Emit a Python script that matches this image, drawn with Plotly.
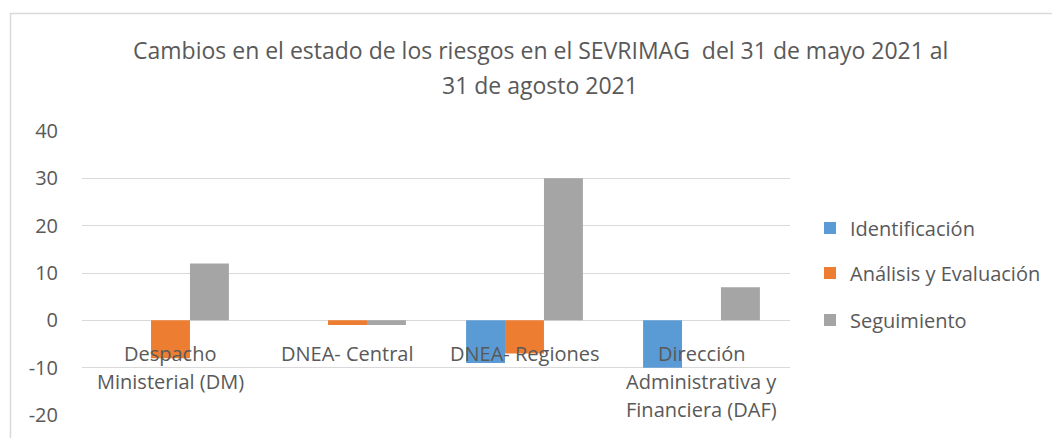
import plotly.graph_objects as go

categories = ["Despacho<br>Ministerial (DM)", "DNEA- Central", "DNEA- Regiones",
              "Dirección<br>Administrativa y<br>Financiera (DAF)"]
identificacion = [0, 0, -9, -10]
analisis = [-8, -1, -7, 0]
seguimiento = [12, -1, 30, 7]
series_names = ["Identificación", "Análisis y Evaluación", "Seguimiento"]
colors = ["#5B9BD5", "#ED7D31", "#A5A5A5"]
y_ticks = [-20, -10, 0, 10, 20, 30, 40]
title_lines = ["Cambios en el estado de los riesgos en el SEVRIMAG  del 31 de mayo 2021 al",
               "31 de agosto 2021"]

FONT = "Open Sans"
TXT = "#595959"
OFF = 8  # default page body margin
W, H = 1060 - OFF, 438 - OFF

# plot area in page pixels
PL, PR, PT, PB = 82, 790, 131, 415
L, R, T, B = PL - OFF, PR - OFF, PT - OFF, PB - OFF
pw, ph = R - L, B - T


def px_x(p):
    return (p - OFF - L) / pw


def px_y(q):
    return (B - (q - OFF)) / ph


fig = go.Figure()
legend_ids = ["legend", "legend2", "legend3"]
for name, vals, c, lg in zip(series_names, [identificacion, analisis, seguimiento], colors, legend_ids):
    fig.add_trace(go.Bar(x=list(range(len(categories))), y=vals, name=name, legend=lg,
                         showlegend=True, marker=dict(color=c, line=dict(width=0))))

annotations = []
for i, cat in enumerate(categories):
    for j, line in enumerate(cat.split("<br>")):
        annotations.append(dict(x=i, y=0, xref="x", yref="y", text=line, showarrow=False,
                                yanchor="middle", yshift=-33 - 28 * j,
                                font=dict(family=FONT, size=20, color=TXT)))
for j, line in enumerate(title_lines):
    annotations.append(dict(x=px_x(540), y=px_y(50 + 35 * j), xref="paper", yref="paper",
                            text=line, showarrow=False, xanchor="center", yanchor="middle",
                            font=dict(family=FONT, size=23, color=TXT)))

legend_y = [228, 273, 320]
legend_layout = {}
for lg, yy in zip(legend_ids, legend_y):
    legend_layout[lg] = dict(x=px_x(810), y=px_y(yy), xanchor="left", yanchor="middle",
                             font=dict(family=FONT, size=20, color=TXT),
                             bgcolor="rgba(0,0,0,0)", borderwidth=0)

fig.update_layout(
    width=W, height=H,
    margin=dict(l=L, r=W - R, t=T, b=H - B, autoexpand=False),
    paper_bgcolor="white", plot_bgcolor="white",
    showlegend=True,
    barmode="group", bargap=0.34, bargroupgap=0,
    font=dict(family=FONT, size=20, color=TXT),
    xaxis=dict(showticklabels=False, showgrid=False, zeroline=False, showline=False,
               range=[-0.5, len(categories) - 0.5]),
    yaxis=dict(range=[-20, 40], tickvals=y_ticks, ticktext=[str(v) for v in y_ticks],
               showgrid=True, gridcolor="#D9D9D9",
               gridwidth=1, zeroline=True, zerolinecolor="#D9D9D9", zerolinewidth=1,
               showline=False, ticks="", ticklabelstandoff=23,
               tickfont=dict(family=FONT, size=20, color=TXT)),
    annotations=annotations,
    shapes=[dict(type="rect", xref="paper", yref="paper",
                 x0=px_x(10.5), x1=px_x(1075), y0=px_y(13.5), y1=px_y(460),
                 line=dict(color="#D9D9D9", width=1.5), fillcolor="rgba(0,0,0,0)",
                 layer="below")],
    **legend_layout,
)

fig.write_html("out.html")
